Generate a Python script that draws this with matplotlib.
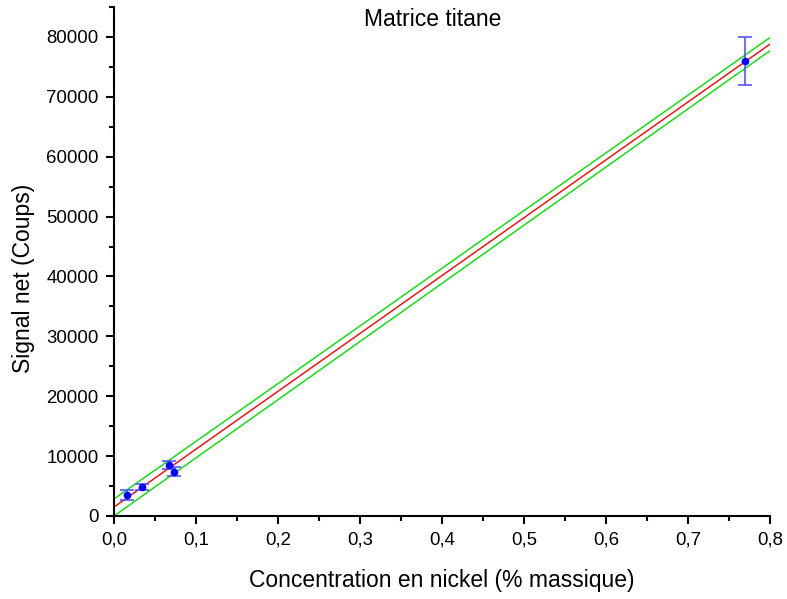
import matplotlib
matplotlib.use("Agg")
import matplotlib.pyplot as plt
from matplotlib.ticker import MultipleLocator, FuncFormatter

plt.rcParams['font.family'] = ['Liberation Sans', 'DejaVu Sans']

# Data
conc = [0.0155, 0.0345, 0.0667, 0.0728, 0.770]
signal = [3500, 4790, 8510, 7400, 76000]
signal_err = [800, 480, 630, 750, 4050]

fit_x = [0.0, 0.8]
fit_y = [1500, 78800]
upper_y = [2840, 79900]
lower_y = [0, 77700]

fig = plt.figure(figsize=(7.87, 5.99), dpi=100)
ax = fig.add_axes([114/787, 1 - 516/599, (770-114)/787, (516-7)/599])

ax.plot(fit_x, upper_y, color='#00e000', lw=1.0)
ax.plot(fit_x, lower_y, color='#00e000', lw=1.0)
ax.plot(fit_x, fit_y, color='#ff0000', lw=1.0)
ax.errorbar(conc, signal, yerr=signal_err, fmt='o', color='#0000ff', ms=4.5,
            ecolor='#5555ff', elinewidth=1.2, capsize=5, capthick=1.2)

ax.set_xlim(0, 0.8)
ax.set_ylim(0, 85000)
ax.spines['top'].set_visible(False)
ax.spines['right'].set_visible(False)
for s in ['left', 'bottom']:
    ax.spines[s].set_linewidth(1.5)

ax.xaxis.set_major_locator(MultipleLocator(0.1))
ax.xaxis.set_minor_locator(MultipleLocator(0.05))
ax.yaxis.set_major_locator(MultipleLocator(10000))
ax.yaxis.set_minor_locator(MultipleLocator(5000))
ax.xaxis.set_major_formatter(FuncFormatter(lambda v, p: f"{v:.1f}".replace('.', ',')))
ax.yaxis.set_major_formatter(FuncFormatter(lambda v, p: f"{int(round(v))}"))
ax.tick_params(which='major', direction='out', length=6, width=1.5, labelsize=13.4, pad=5)
ax.tick_params(which='minor', direction='out', length=3.5, width=1.5)

ax.set_xlabel('Concentration en nickel (% massique)', fontsize=16.5)
ax.set_ylabel('Signal net (Coups)', fontsize=16.5)
ax.xaxis.set_label_coords(0.5, (516 - 569) / 509)
ax.yaxis.set_label_coords((35 - 114) / 656, (516 - 278) / 509)
ax.text(0.4855, 0.998, 'Matrice titane', transform=ax.transAxes, ha='center', va='top', fontsize=16.5)

fig.savefig('out.png', dpi=100)
